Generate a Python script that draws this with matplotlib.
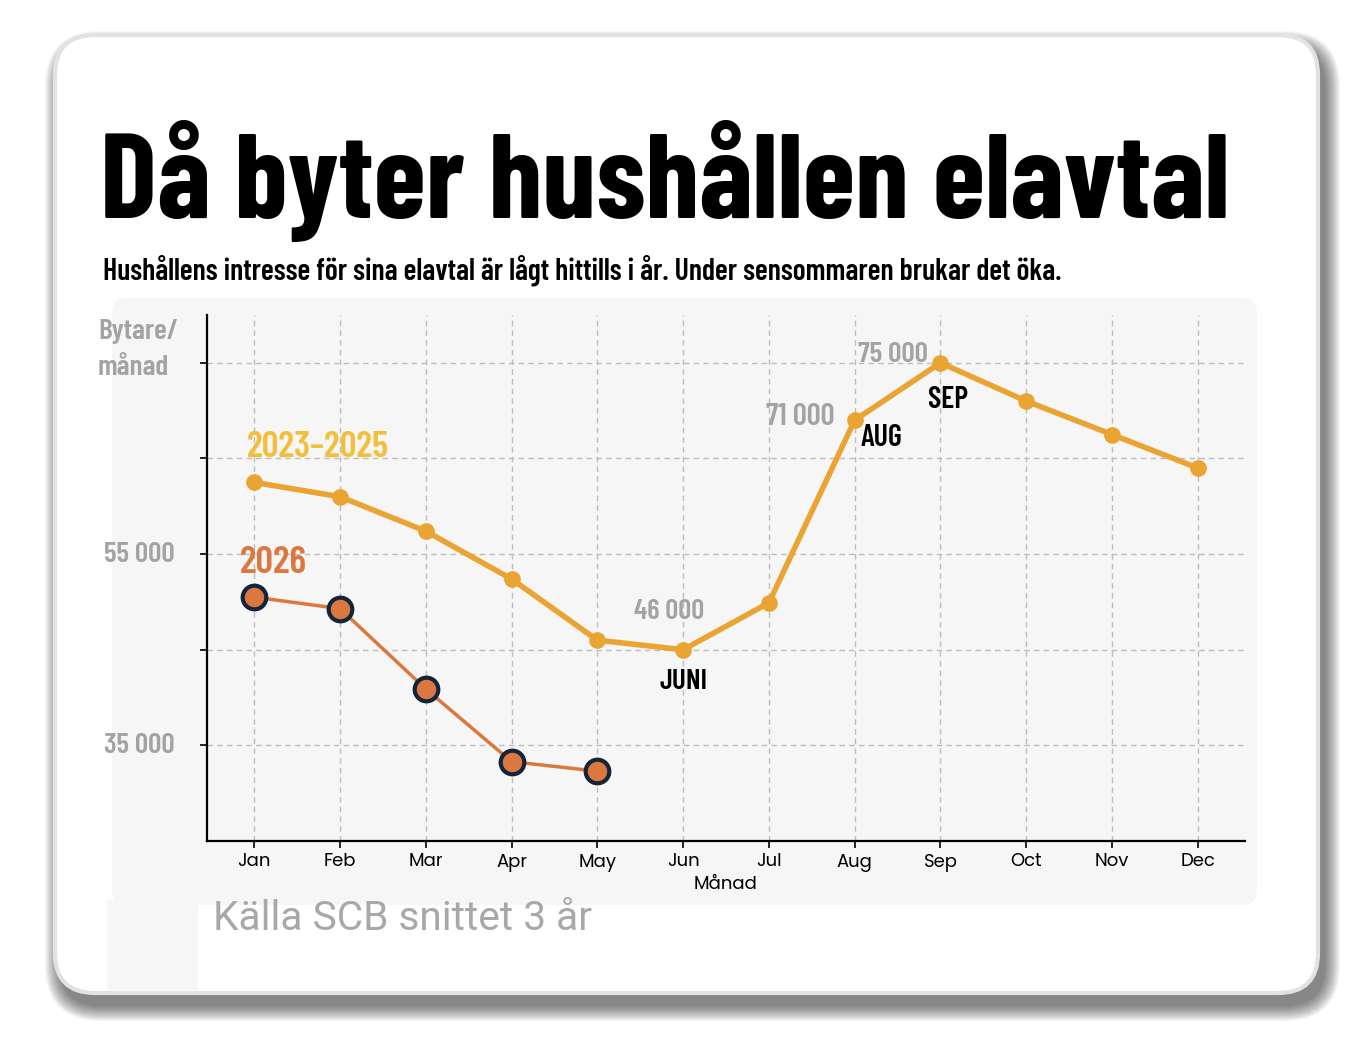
import os
import matplotlib
matplotlib.use("Agg")
import matplotlib.pyplot as plt
from matplotlib.patches import FancyBboxPatch, Rectangle
from matplotlib import font_manager


months = ["Jan", "Feb", "Mar", "Apr", "May", "Jun",
          "Jul", "Aug", "Sep", "Oct", "Nov", "Dec"]

avg_2023_2025 = [62500, 61000, 57400, 52400, 46000, 45000,
                 49900, 69000, 75000, 71000, 67500, 64000]

months_2026 = ["Jan", "Feb", "Mar", "Apr", "May"]
values_2026 = [50500, 49300, 40900, 33300, 32300]

y_ticks = [35000, 45000, 55000, 65000, 75000]
y_tick_labels = ["35 000", "", "55 000", "", ""]


ttf = font_manager.fontManager.ttflist
by_file = {os.path.basename(f.fname): f.fname for f in ttf}


def pick(files, fallback):
    for fn in files:
        if fn in by_file:
            return font_manager.FontProperties(fname=by_file[fn])
    return fallback


bold_fb = font_manager.FontProperties(family="DejaVu Sans", weight="bold")
plain_fb = font_manager.FontProperties(family="DejaVu Sans")

TITLE = pick(["BarlowCondensed-Bold.ttf", "BarlowCondensed-SemiBold.ttf",
              "FiraSansExtraCondensed-Bold.ttf"], bold_fb)
COND = pick(["BarlowCondensed-SemiBold.ttf", "BarlowCondensed-Bold.ttf",
             "FiraSansExtraCondensed-Bold.ttf"], bold_fb)
TICK = pick(["Poppins-Regular.ttf", "Lato-Regular.ttf"], plain_fb)
SRC = pick(["Inter-Regular.ttf", "Roboto-Regular.ttf"], plain_fb)

W, H = 1372, 1042
fig = plt.figure(figsize=(W / 100, H / 100), dpi=100)
fig.patch.set_facecolor("white")

# background layer in pixel coordinates
bg = fig.add_axes([0, 0, 1, 1])
bg.set_xlim(0, W)
bg.set_ylim(H, 0)
bg.axis("off")
bg.set_zorder(0)

card_x, card_y, card_w, card_h = 55, 35, 1263, 958

# soft card shadow, heavier to the lower right
for e in range(16, 0, -1):
    bg.add_patch(FancyBboxPatch(
        (card_x + 6 - e, card_y + 12 - e), card_w + 2 * e, card_h + 2 * e,
        boxstyle="round,pad=0,rounding_size=%d" % (40 + e),
        facecolor="#1e1e1e", edgecolor="none", alpha=0.045,
    ))

# card
bg.add_patch(FancyBboxPatch(
    (card_x, card_y), card_w, card_h,
    boxstyle="round,pad=0,rounding_size=40",
    facecolor="white", edgecolor="#e2e2e2", linewidth=3,
))

# light gray chart panel
bg.add_patch(FancyBboxPatch(
    (112, 298), 1145, 607,
    boxstyle="round,pad=0,rounding_size=14",
    facecolor="#f6f6f6", edgecolor="none",
))
bg.add_patch(Rectangle((107, 900), 91, 90, facecolor="#f6f6f6", edgecolor="none"))

# chart
ax = fig.add_axes([207 / W, 1 - 841 / H, (1245 - 207) / W, (841 - 315) / H])
ax.set_zorder(1)
ax.patch.set_visible(False)

x_all = list(range(len(months)))
x_2026 = [months.index(m) for m in months_2026]

ax.plot(x_all, avg_2023_2025, color="#E9A434", linewidth=4,
        marker="o", markersize=11, markerfacecolor="#E9A434",
        markeredgecolor="#E9A434", zorder=3)

ax.plot(x_2026, values_2026, color="#DA7840", linewidth=2.5,
        marker="o", markersize=17, markerfacecolor="#DA7840",
        markeredgecolor="#14253a", markeredgewidth=3, zorder=4)

ax.set_xlim(-0.55, 11.55)
ax.set_ylim(25000, 80000)

ax.set_xticks(x_all)
ax.set_xticklabels(months, fontproperties=TICK, fontsize=13, color="black")
ax.set_yticks(y_ticks)
ax.set_yticklabels([])
ax.tick_params(axis="both", length=5, width=1.2, color="black")
ax.tick_params(axis="x", pad=4)

ax.grid(True, linestyle=(0, (4, 3)), color="#bdbdbd", linewidth=1)
ax.set_axisbelow(True)

for s in ["top", "right"]:
    ax.spines[s].set_visible(False)
for s in ["left", "bottom"]:
    ax.spines[s].set_linewidth(1.6)
    ax.spines[s].set_color("black")

ax.set_xlabel("Månad", fontproperties=TICK, fontsize=13, labelpad=3)

fit = []  # (text, target width in px)

# y labels (only two shown)
for val, lab in zip(y_ticks, y_tick_labels):
    if lab:
        t = ax.annotate(lab, xy=(-0.55, val), xytext=(-32, 0),
                        textcoords="offset pixels", ha="right", va="center",
                        fontproperties=COND, fontsize=20, color="#a3a3a3")
        fit.append((t, 70))

t = ax.annotate("Bytare/\nmånad", xy=(-0.55, 80000), xytext=(-109, -4),
                textcoords="offset pixels", ha="left", va="top",
                fontproperties=COND, fontsize=20,
                color="#a3a3a3", linespacing=1.55, annotation_clip=False)
fit.append((t, 80))

# series labels
t = ax.annotate("2023–2025", xy=(0, avg_2023_2025[0]), xytext=(-7, 18),
                textcoords="offset pixels", ha="left", va="bottom",
                fontproperties=COND, fontsize=25, color="#F2BE3C")
fit.append((t, 143))
t = ax.annotate("2026", xy=(0, values_2026[0]), xytext=(-14, 17),
                textcoords="offset pixels", ha="left", va="bottom",
                fontproperties=COND, fontsize=26, color="#DA7840")
fit.append((t, 67))

# value and month callouts
jun, aug, sep = months.index("Jun"), months.index("Aug"), months.index("Sep")
callouts = [
    ("46 000", jun, (-14, 38), "#a3a3a3", 70),
    ("JUNI", jun, (0, -32), "black", 48),
    ("71 000", aug, (-54, 3), "#a3a3a3", 69),
    ("AUG", aug, (27, -18), "black", 42),
    ("75 000", sep, (-48, 8), "#a3a3a3", 70),
    ("SEP", sep, (8, -37), "black", 40),
]
for txt, i, off, col, wpx in callouts:
    t = ax.annotate(txt, xy=(i, avg_2023_2025[i]), xytext=off,
                    textcoords="offset pixels", ha="center", va="center",
                    fontproperties=COND, fontsize=19, color=col)
    fit.append((t, wpx))

# title + subtitle
title = fig.text(100 / W, 1 - 218 / H, "Då byter hushållen elavtal",
                 fontproperties=TITLE, fontsize=70,
                 color="black", ha="left", va="baseline")
subtitle = fig.text(103 / W, 1 - 279 / H,
                    "Hushållens intresse för sina elavtal är lågt hittills i år. "
                    "Under sensommaren brukar det öka.",
                    fontproperties=COND, fontsize=18,
                    color="black", ha="left", va="baseline")
fit += [(title, 1130), (subtitle, 957)]

src = fig.text(213 / W, 1 - 930 / H, "Källa SCB snittet 3 år",
               fontproperties=SRC, fontsize=25, color="#a8a8a8",
               ha="left", va="baseline")
fit.append((src, 379))

# scale each text so it takes the width it has in the reference
renderer = fig.canvas.get_renderer()
for t, target in fit:
    w = t.get_window_extent(renderer).width
    t.set_fontsize(t.get_fontsize() * target / w)

fig.savefig("out.png", dpi=100)
plt.close(fig)
